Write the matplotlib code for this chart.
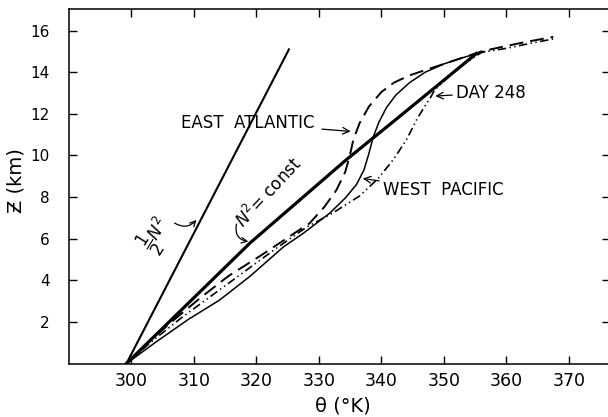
import matplotlib.pyplot as plt

plt.rcParams['lines.scale_dashes'] = False

# potential temperature (K) vs height (km)
half_n2_theta = [299.2, 325.2]
half_n2_z = [0, 15.1]

n2_const_theta = [299.2, 319, 334.4, 342.4, 355.2]
n2_const_z = [0, 5.8, 9.8, 11.75, 14.9]

east_atl_theta = [299.2, 303, 307, 311, 315.5, 321, 326, 328.5, 330.9, 332.8, 334.2, 334.9,
                  335.5, 336.5, 338, 340, 342, 344.5, 347, 350, 353, 356, 359, 363, 367.5]
east_atl_z = [0, 1.1, 2.15, 3.15, 4.2, 5.25, 6.25, 6.74, 7.54, 8.34, 9.2, 9.94,
              10.75, 11.55, 12.35, 13.05, 13.5, 13.85, 14.1, 14.4, 14.7, 15.0, 15.2, 15.45, 15.7]

west_pac_theta = [299.2, 304, 309, 314.1, 319, 324.3, 327.5, 331.7, 334.2, 336, 337.2, 338.0,
                  338.7, 339.6, 340.8, 342.3, 344.5, 347, 350, 353, 356.5]
west_pac_z = [0, 1.05, 2.1, 3.05, 4.2, 5.6, 6.26, 7.22, 7.95, 8.6, 9.3, 10.1,
              10.9, 11.6, 12.3, 12.9, 13.5, 14.0, 14.4, 14.7, 15.0]

day248_theta = [299.2, 303, 308, 313, 318, 323, 328, 332.3, 336.5, 339.5, 341.9, 344, 345.6,
                346.8, 347.8, 348.5, 351, 353.5, 356, 360, 364, 367.5]
day248_z = [0, 1.0, 2.2, 3.3, 4.4, 5.5, 6.55, 7.25, 8.05, 8.9, 9.8, 10.75, 11.7,
            12.3, 12.75, 13.15, 13.85, 14.45, 14.95, 15.15, 15.4, 15.6]

x_ticks = [300, 310, 320, 330, 340, 350, 360, 370]
y_ticks = [2, 4, 6, 8, 10, 12, 14, 16]

fig = plt.figure(figsize=(6.08, 4.17), dpi=100)
ax = fig.add_axes([69 / 608, 53.5 / 417, 540.5 / 608, 354.5 / 417])

ax.plot(half_n2_theta, half_n2_z, color='black', lw=1.5)
ax.plot(n2_const_theta, n2_const_z, color='black', lw=2.3)
ax.plot(west_pac_theta, west_pac_z, color='black', lw=1.1)
ax.plot(east_atl_theta, east_atl_z, color='black', lw=1.4, dashes=(10, 5))
ax.plot(day248_theta, day248_z, color='black', lw=1.2, dashes=(6, 2.5, 1, 2.5, 1, 2.5))

ax.set_xlim(290, 376.5)
ax.set_ylim(0, 17.04)
ax.set_xticks(x_ticks)
ax.set_yticks(y_ticks)
ax.tick_params(direction='in', length=6, width=1, top=True, right=True)
ax.tick_params(axis='x', labelsize=12.5, pad=6)
ax.tick_params(axis='y', labelsize=11, pad=14)
for s in ax.spines.values():
    s.set_linewidth(1.1)

fig.text(343 / 608, 1 - 406 / 417, 'θ (°K)', ha='center', va='center', fontsize=14)
fig.text(16 / 608, 1 - 181 / 417, 'Ƶ (km)', ha='center', va='center', fontsize=14, rotation=90)

arrow = dict(arrowstyle='->', color='black', lw=0.9)

ax.annotate('EAST  ATLANTIC', xy=(335.3, 11.15), xytext=(308.0, 11.55),
            ha='left', va='center', fontsize=12, arrowprops=dict(arrow, shrinkA=3, shrinkB=1))
ax.annotate('DAY 248', xy=(348.4, 12.85), xytext=(352.0, 13.02),
            ha='left', va='center', fontsize=12, arrowprops=dict(arrow, shrinkA=1, shrinkB=1))
ax.annotate('WEST  PACIFIC', xy=(336.8, 8.9), xytext=(340.3, 8.34),
            ha='left', va='center', fontsize=12, arrowprops=dict(arrow, shrinkA=1, shrinkB=1))

ax.text(322.0, 8.2, r'$N^2$= const', rotation=47, ha='center', va='center', fontsize=12)
ax.annotate('', xy=(318.7, 5.86), xytext=(316.8, 6.7),
            arrowprops=dict(arrow, connectionstyle='arc3,rad=0.5', shrinkA=0, shrinkB=0))

ax.text(303.9, 6.2, r'$\dfrac{1}{2}N^2$', rotation=58, ha='center', va='center', fontsize=12)
ax.annotate('', xy=(310.4, 6.9), xytext=(306.9, 6.75),
            arrowprops=dict(arrow, connectionstyle='arc3,rad=0.4', shrinkA=0, shrinkB=0))

fig.savefig('out.png', dpi=100)
